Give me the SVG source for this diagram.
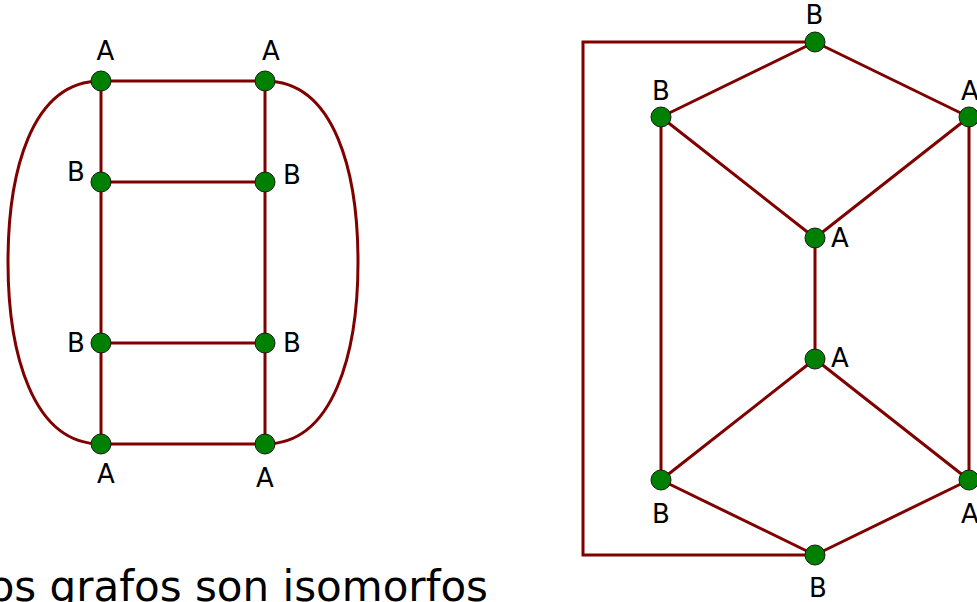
<svg xmlns="http://www.w3.org/2000/svg" width="977" height="602" viewBox="0 0 977 602">
<style>
.e{fill:none;stroke:#800000;stroke-width:3;stroke-linejoin:miter}
.n{fill:#008000;stroke:#1a1a1a;stroke-width:1}
.t{font-family:"DejaVu Sans",sans-serif;font-size:26px;fill:#000;text-anchor:middle}
.big{font-family:"DejaVu Sans",sans-serif;font-size:42px;fill:#000}
</style>
<rect width="977" height="602" fill="#fff"/>
<g id="connectors">
<path class="e" d="M101,81 C30,81 8,175 8,262 C8,352 32,444 101,444"/>
<path class="e" d="M265,81 C336,81 358,175 358,262 C358,352 334,444 265,444"/>
<path class="e" d="M101,81 H265 M101,182 H265 M101,343 H265 M101,444 H265 M101,81 V444 M265,81 V444"/>
<path class="e" d="M815,42 L661,117 M815,42 L969,117 M661,117 L815,238 M969,117 L815,238 M815,238 V359 M661,117 V480 M969,117 V480 M815,359 L661,480 M815,359 L969,480 M661,480 L815,555 M969,480 L815,555"/>
<path class="e" d="M815,42 H583 V555 H815"/>
</g>
<g id="g1-a1"><circle class="n" cx="101" cy="81" r="10"/><text class="t" x="105.5" y="60">A</text></g>
<g id="g1-a2"><circle class="n" cx="265" cy="81" r="10"/><text class="t" x="271" y="60">A</text></g>
<g id="g1-b1"><circle class="n" cx="101" cy="182" r="10"/><text class="t" x="76" y="181">B</text></g>
<g id="g1-b2"><circle class="n" cx="265" cy="182" r="10"/><text class="t" x="292" y="184">B</text></g>
<g id="g1-b3"><circle class="n" cx="101" cy="343" r="10"/><text class="t" x="76" y="352">B</text></g>
<g id="g1-b4"><circle class="n" cx="265" cy="343" r="10"/><text class="t" x="292" y="352">B</text></g>
<g id="g1-a3"><circle class="n" cx="101" cy="444" r="10"/><text class="t" x="106" y="483">A</text></g>
<g id="g1-a4"><circle class="n" cx="265" cy="444" r="10"/><text class="t" x="265" y="487">A</text></g>
<g id="g2-btop"><circle class="n" cx="815" cy="42" r="10"/><text class="t" x="814.5" y="24">B</text></g>
<g id="g2-bleft"><circle class="n" cx="661" cy="117" r="10"/><text class="t" x="661" y="100">B</text></g>
<g id="g2-aright"><circle class="n" cx="969" cy="117" r="10"/><text class="t" x="970" y="100">A</text></g>
<g id="g2-amid1"><circle class="n" cx="815" cy="238" r="10"/><text class="t" x="840" y="247">A</text></g>
<g id="g2-amid2"><circle class="n" cx="815" cy="359" r="10"/><text class="t" x="840" y="367">A</text></g>
<g id="g2-bleft2"><circle class="n" cx="661" cy="480" r="10"/><text class="t" x="661" y="523">B</text></g>
<g id="g2-aright2"><circle class="n" cx="969" cy="480" r="10"/><text class="t" x="970" y="523">A</text></g>
<g id="g2-bbot"><circle class="n" cx="815" cy="555" r="10"/><text class="t" x="818" y="597">B</text></g>
<text class="big" x="-34" y="601">Los grafos son isomorfos</text>
</svg>
